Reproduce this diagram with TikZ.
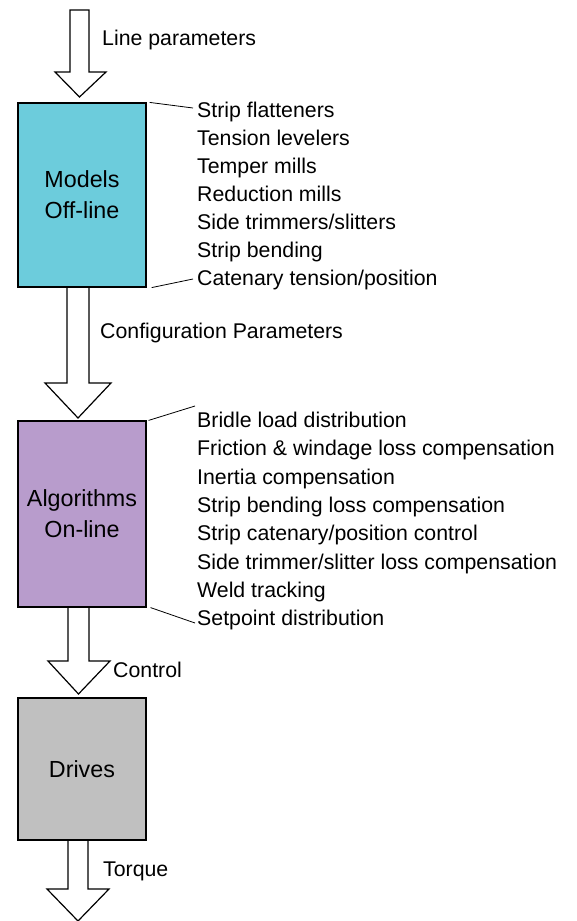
\documentclass[tikz,border=0pt]{standalone}
\usepackage{fontspec}
\setmainfont{Liberation Sans}
\usetikzlibrary{positioning}

\definecolor{modelcyan}{RGB}{108,204,220}
\definecolor{algopurple}{RGB}{184,156,204}
\definecolor{drivegray}{RGB}{192,192,192}

\tikzset{
  unitbox/.style={draw, line width=1.2pt, minimum width=128pt, inner sep=0pt,
    align=center, font=\fontsize{23.3}{31}\selectfont},
  itemtext/.style={anchor=base west, inner sep=0pt, font=\fontsize{21.3}{24}\selectfont},
  flowlabel/.style={anchor=base west, inner sep=0pt, font=\fontsize{21.3}{24}\selectfont},
  fatarrow/.style={draw, line width=1.2pt, fill=white, line join=miter},
  leader/.style={line width=0.8pt}
}

% #1 top, #2 head, #3 tip, #4/#5 shaft, #6/#7 head edges
\newcommand{\blockarrow}[7]{%
  \draw[fatarrow] (#4,#1) -- (#4,#2) -- (#6,#2) -- ({(#4+#5)/2},#3)
    -- (#7,#2) -- (#5,#2) -- (#5,#1) -- cycle;}

\begin{document}
\begin{tikzpicture}[x=1pt, y=-1pt]
    \useasboundingbox (0,0) rectangle (577,921);

    % arrows between the blocks
    \blockarrow{10}{72}{97}{70}{89}{55}{106}
    \blockarrow{287}{383}{418}{67}{89}{45}{111}
    \blockarrow{607}{661}{694}{68}{89}{48}{110}
    \blockarrow{840}{889}{921}{68}{88}{47}{109}

    % blocks
    \node[unitbox, fill=modelcyan, minimum height=184pt] (models) at (82,195) {Models\\Off-line};
    \node[unitbox, fill=algopurple, minimum height=186pt] (algos) at (82,514) {Algorithms\\On-line};
    \node[unitbox, fill=drivegray, minimum height=142pt] (drives) at (82,769) {Drives};

    % arrow labels
    \node[flowlabel] (linepar) at (102,45) {Line parameters};
    \node[flowlabel] (confpar) at (100,338) {Configuration Parameters};
    \node[flowlabel] (control) at (113,677) {Control};
    \node[flowlabel] (torque) at (103,876) {Torque};

    % off-line models
    \foreach \txt [count=\i] in {Strip flatteners, Tension levelers, Temper mills,
        Reduction mills, Side trimmers/slitters, Strip bending, Catenary tension/position}
      \node[itemtext] (m\i) at (197,{110+28*(\i-1)+7.5}) {\txt};

    % on-line algorithms
    \foreach \txt [count=\i] in {Bridle load distribution,
        Friction \& windage loss compensation, Inertia compensation,
        Strip bending loss compensation, Strip catenary/position control,
        Side trimmer/slitter loss compensation, Weld tracking, Setpoint distribution}
      \node[itemtext] (a\i) at (197,{420+28.3*(\i-1)+7.5}) {\txt};

    % leader lines
    \coordinate (mtop) at (193,108);
    \coordinate (mbot) at (193,279);
    \coordinate (atop) at (195,406);
    \coordinate (abot) at (195,623);
    \draw[leader] ([xshift=3pt]models.north east) -- (mtop);
    \draw[leader] ([xshift=5pt]models.south east) -- (mbot);
    \draw[leader] ([xshift=2pt]algos.north east) -- (atop);
    \draw[leader] ([xshift=4pt]algos.south east) -- (abot);
  \end{tikzpicture}
\end{document}
